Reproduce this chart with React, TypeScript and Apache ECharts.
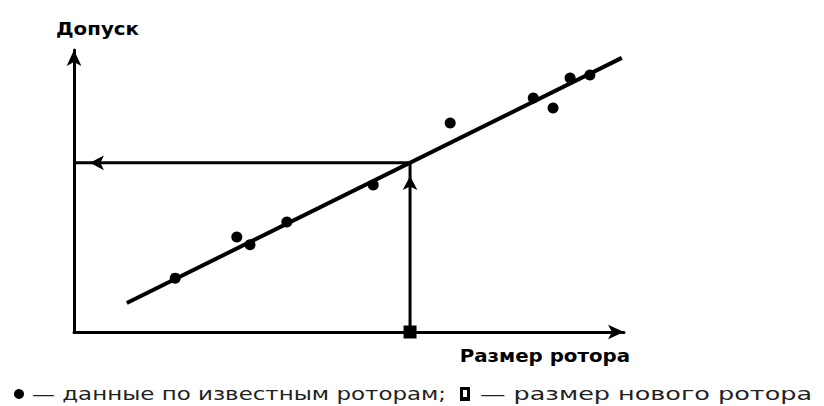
import React, { useEffect, useRef } from "react";
import * as echarts from "echarts";

// Known rotors: size (x) and tolerance (y), arbitrary units 0..100
const knownRotorSize = [18.4, 29.6, 32.0, 38.7, 54.4, 68.4, 83.5, 87.1, 90.2, 93.8];
const knownRotorTolerance = [19.1, 33.7, 30.9, 39.0, 52.1, 74.1, 83.0, 79.4, 90.1, 91.1];
// Fitted straight line end points
const fitLineSize = [9.6, 99.6];
const fitLineTolerance = [10.3, 97.2];
// New rotor
const newRotorSize = 61.1;
const newRotorTolerance = 60.0;
// Arrow head positions on guide lines
const guideArrowSize = 2.9;
const guideArrowTolerance = 55.3;
// Texts
const axisNames = ["Размер ротора", "Допуск"];
const captionTexts = ["— данные по известным роторам;", "— размер нового ротора"];

export default function App() {
  const ref = useRef<HTMLDivElement>(null);
  useEffect(() => {
    if (!ref.current) return;
    const chart = echarts.init(ref.current, null, { renderer: "svg" });
    const axisCommon = {
      type: "value",
      min: 0,
      max: 100,
      axisLabel: { show: false },
      axisTick: { show: false },
      splitLine: { show: false },
      axisLine: {
        show: true,
        symbol: ["none", "arrow"],
        symbolSize: [11, 16],
        lineStyle: { color: "#000", width: 3 },
      },
    };
    const labelFont = "'DejaVu Sans', sans-serif";
    chart.setOption({
      animation: false,
      backgroundColor: "#fff",
      grid: { left: 74, right: 200, top: 50, bottom: 74 },
      xAxis: { ...axisCommon },
      yAxis: { ...axisCommon },
      series: [
        {
          type: "line",
          data: fitLineSize.map((x, i) => [x, fitLineTolerance[i]]),
          symbol: "none",
          lineStyle: { color: "#000", width: 4 },
          clip: false,
          z: 2,
        },
        {
          type: "line",
          data: [
            [newRotorSize, newRotorTolerance],
            [0, newRotorTolerance],
          ],
          symbol: "none",
          lineStyle: { color: "#000", width: 3 },
          clip: false,
          z: 2,
        },
        {
          type: "line",
          data: [
            [newRotorSize, 0],
            [newRotorSize, newRotorTolerance],
          ],
          symbol: "none",
          lineStyle: { color: "#000", width: 3 },
          clip: false,
          z: 2,
        },
        {
          type: "scatter",
          data: [
            { value: [guideArrowSize, newRotorTolerance], symbolRotate: 90 },
            { value: [newRotorSize, guideArrowTolerance], symbolRotate: 0 },
          ],
          symbol: "arrow",
          symbolSize: [11, 14],
          itemStyle: { color: "#000", opacity: 1 },
          clip: false,
          z: 3,
        },
        {
          type: "scatter",
          name: "данные по известным роторам",
          data: knownRotorSize.map((x, i) => [x, knownRotorTolerance[i]]),
          symbol: "circle",
          symbolSize: 11,
          itemStyle: { color: "#000", opacity: 1 },
          clip: false,
          z: 4,
        },
        {
          type: "scatter",
          name: "размер нового ротора",
          data: [[newRotorSize, 0]],
          symbol: "rect",
          symbolSize: 13,
          itemStyle: { color: "#000", opacity: 1 },
          clip: false,
          z: 4,
        },
      ],
      graphic: [
        {
          type: "text",
          x: 630,
          y: 355,
          scaleX: 1.1,
          style: {
            text: axisNames[0],
            font: `bold 18px ${labelFont}`,
            fill: "#000",
            textAlign: "right",
            textVerticalAlign: "middle",
          },
        },
        {
          type: "text",
          x: 56,
          y: 28,
          scaleX: 1.1,
          style: {
            text: axisNames[1],
            font: `bold 18px ${labelFont}`,
            fill: "#000",
            textAlign: "left",
            textVerticalAlign: "middle",
          },
        },
        {
          type: "circle",
          shape: { cx: 19, cy: 394, r: 5 },
          style: { fill: "#000" },
        },
        {
          type: "text",
          x: 32,
          y: 394,
          scaleX: 1.35,
          style: {
            text: captionTexts[0],
            font: `17px ${labelFont}`,
            fill: "#222",
            textAlign: "left",
            textVerticalAlign: "middle",
          },
        },
        {
          type: "rect",
          shape: { x: 460, y: 387, width: 10, height: 14 },
          style: { fill: "#000" },
        },
        {
          type: "rect",
          shape: { x: 463, y: 390, width: 4, height: 7 },
          style: { fill: "#fff" },
        },
        {
          type: "text",
          x: 480,
          y: 394,
          scaleX: 1.5,
          style: {
            text: captionTexts[1],
            font: `17px ${labelFont}`,
            fill: "#222",
            textAlign: "left",
            textVerticalAlign: "middle",
          },
        },
      ],
    });
    return () => chart.dispose();
  }, []);
  return (
    <div
      ref={ref}
      style={{ position: "absolute", left: 0, top: 0, width: 824, height: 406 }}
    />
  );
}
